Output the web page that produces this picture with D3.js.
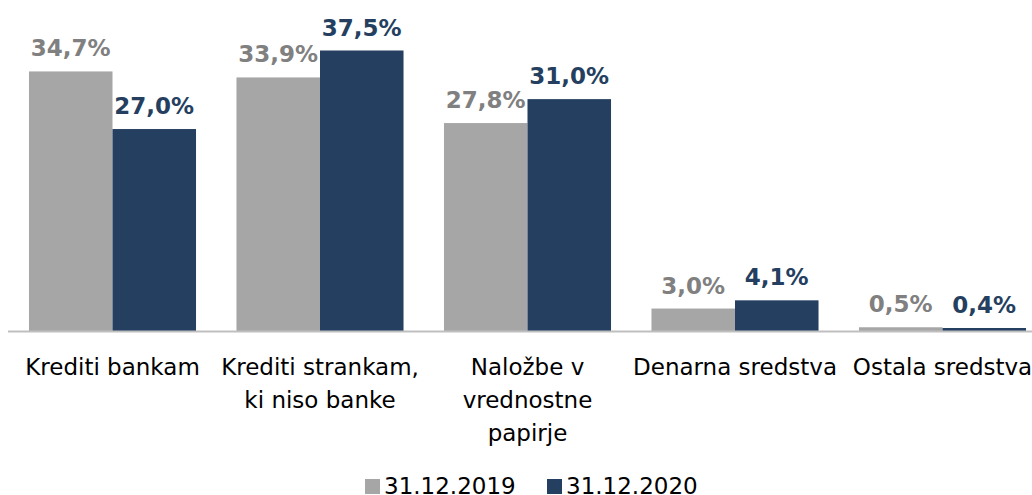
<!DOCTYPE html>
<html>
<head>
<meta charset="utf-8">
<script src="https://cdn.jsdelivr.net/npm/d3@7"></script>
<style>
  html, body { margin: 0; padding: 0; background: #fff; }
  svg { display: block; }
</style>
</head>
<body>
<svg id="chart" width="1032" height="495"></svg>
<script>
const categories = ["Krediti bankam", "Krediti strankam, ki niso banke", "Naložbe v vrednostne papirje", "Denarna sredstva", "Ostala sredstva"];
const seriesNames = ["31.12.2019", "31.12.2020"];
const values2019 = [34.7, 33.9, 27.8, 3.0, 0.5];
const values2020 = [27.0, 37.5, 31.0, 4.1, 0.4];
const colors = ["#a6a6a6", "#253f60"];
const labelColors = ["#808080", "#253f60"];

const svg = d3.select("#chart");
const W = 1032, H = 495;
const baseline = 331;
const fontFamily = "'DejaVu Sans', Verdana, sans-serif";

const x0 = d3.scaleBand()
  .domain(categories)
  .range([8.75, 1046.25])
  .paddingInner(0.195)
  .paddingOuter(0.0975);

const x1 = d3.scaleBand()
  .domain(seriesNames)
  .range([0, x0.bandwidth()])
  .padding(0);

const y = d3.scaleLinear()
  .domain([0, 40])
  .range([baseline, baseline - 7.48 * 40]);

const data = categories.map((c, i) => ({
  cat: c,
  vals: [
    { s: seriesNames[0], v: values2019[i], k: 0 },
    { s: seriesNames[1], v: values2020[i], k: 1 }
  ]
}));

const groups = svg.append("g").selectAll("g")
  .data(data).join("g")
  .attr("transform", d => `translate(${x0(d.cat)},0)`);

groups.selectAll("rect")
  .data(d => d.vals).join("rect")
  .attr("x", d => x1(d.s))
  .attr("width", x1.bandwidth())
  .attr("y", d => y(d.v))
  .attr("height", d => y(0) - y(d.v))
  .attr("fill", d => colors[d.k]);

groups.selectAll("text.val")
  .data(d => d.vals).join("text")
  .attr("class", "val")
  .attr("x", d => x1(d.s) + x1.bandwidth() / 2)
  .attr("y", d => y(d.v) - 15)
  .attr("text-anchor", "middle")
  .attr("font-family", fontFamily)
  .attr("font-weight", "bold")
  .attr("font-size", 23)
  .attr("fill", d => labelColors[d.k])
  .text(d => d.v.toFixed(1).replace(".", ",") + "%");

// axis line
const xAxis = d3.axisBottom(x0).tickSize(0).tickFormat("");
const axisG = svg.append("g")
  .attr("transform", `translate(0,${baseline})`)
  .call(xAxis);
axisG.select(".domain")
  .attr("d", `M8,0.5H1032`)
  .attr("stroke", "#bfbfbf")
  .attr("stroke-width", 2);

// category labels with wrapping
const labelG = svg.append("g");
const wrapWidth = 210;
const lineHeight = 33;
categories.forEach(c => {
  const t = labelG.append("text")
    .attr("x", x0(c) + x0.bandwidth() / 2)
    .attr("y", baseline + 44)
    .attr("text-anchor", "middle")
    .attr("font-family", fontFamily)
    .attr("font-size", 23)
    .attr("fill", "#000");
  const words = c.split(" ");
  let line = [];
  let lineNo = 0;
  let tspan = t.append("tspan").attr("x", x0(c) + x0.bandwidth() / 2).attr("dy", 0);
  words.forEach(w => {
    line.push(w);
    tspan.text(line.join(" "));
    if (tspan.node().getComputedTextLength() > wrapWidth && line.length > 1) {
      line.pop();
      tspan.text(line.join(" "));
      line = [w];
      lineNo++;
      tspan = t.append("tspan")
        .attr("x", x0(c) + x0.bandwidth() / 2)
        .attr("dy", lineHeight)
        .text(w);
    }
  });
});

// legend
const legend = svg.append("g");
const legendItems = [
  { name: seriesNames[0], color: colors[0], x: 365 },
  { name: seriesNames[1], color: colors[1], x: 547 }
];
legendItems.forEach(it => {
  legend.append("rect")
    .attr("x", it.x).attr("y", 479)
    .attr("width", 15).attr("height", 15)
    .attr("fill", it.color);
  legend.append("text")
    .attr("x", it.x + 19).attr("y", 494)
    .attr("font-family", fontFamily)
    .attr("font-size", 23)
    .attr("fill", "#000")
    .text(it.name);
});
</script>
</body>
</html>
